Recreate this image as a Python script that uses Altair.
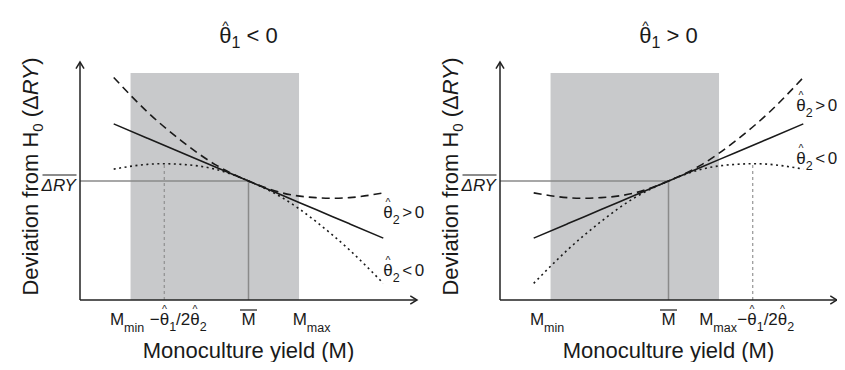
import altair as alt
import pandas as pd

# ---------------- values ----------------
# monoculture yield positions (arbitrary 0-100 units along each x axis)
M_GRID = [10, 20, 30, 40, 50, 60, 70, 80, 90]

# panel 1 (theta1 < 0)
LEFT_DASHED = [93.5, 79, 67, 57, 50, 45, 43, 43, 45]     # theta2 > 0
LEFT_SOLID = [74, 68, 62, 56, 50, 44, 38, 32, 26]        # linear
LEFT_DOTTED = [55, 57, 57, 55, 50, 43, 33, 21, 7]        # theta2 < 0
LEFT_VERTEX = [25, 57.4]                                 # -theta1/2theta2

# panel 2 (theta1 > 0)
RIGHT_DASHED = [45, 43, 43, 45, 50, 57, 67, 79, 93.5]
RIGHT_SOLID = [26, 32, 38, 44, 50, 56, 62, 68, 74]
RIGHT_DOTTED = [7, 21, 33, 43, 50, 55, 57, 57, 55]
RIGHT_VERTEX = [75, 57.4]

M_MIN, M_MAX, M_BAR = 15, 65, 50
DRY_BAR = 50
SHADE_TOP = 95.4

# curve-label anchor heights (y units) for "theta2 > 0" and "theta2 < 0"
LEFT_LABEL_Y = [34.5, 10]
RIGHT_LABEL_Y = [79.5, 57]
LABEL_X = 90

# ---------------- layout / style ----------------
PANEL_GAP = 24.63           # x units between the end of panel 1 and start of panel 2
RIGHT_OFF = 100 + PANEL_GAP
FONT = "Liberation Sans"
INK = "#1a1a1a"
AXC = "#222222"
REFC = "#8a8a8a"
SHADE = "#c8c9cb"

ONE = pd.DataFrame({"k": [0]})
SX = alt.Scale(domain=[0, RIGHT_OFF + 100], nice=False, zero=False)
SY = alt.Scale(domain=[0, 100], nice=False, zero=False)

# Arial / Liberation Sans advance widths (per 1000 em)
W = {' ': 278, '<': 584, '>': 584, '0': 556, '1': 556, '2': 556, 'M': 833,
     'm': 833, 'i': 222, 'n': 556, 'a': 556, 'x': 500, 'θ': 556, '−': 584,
     '/': 278, 'Δ': 668, 'R': 722, 'Y': 667, '(': 333, ')': 333, 'D': 722,
     'e': 556, 'v': 500, 't': 278, 'o': 556, 'f': 278, 'r': 333, 'H': 722,
     'c': 500, 'u': 556, 'l': 222, 'y': 500, 'd': 556}


def tw(s, size, space=278):
    return sum((space if c == ' ' else W.get(c, 556)) for c in s) * size / 1000.0


def XD(v):
    return alt.XDatum(v, scale=SX, axis=None)


def YD(v):
    return alt.YDatum(v, scale=SY, axis=None)


def text_runs(runs, x, y, dx=0.0, dy=0.0, align="center", angle=0, hat_gap=3.0,
              space=278):
    """runs: (text, size, baseline shift, italic, hat)"""
    total = sum(tw(r[0], r[1], space) for r in runs)
    if align == "center":
        cur = dx - total / 2.0
    elif align == "right":
        cur = dx - total
    else:
        cur = dx
    layers = []
    for text, size, shift, italic, hat in runs:
        w = tw(text, size, space)
        body = text.lstrip(" ")           # SVG drops leading blanks
        lead = tw(text[:len(text) - len(body)], size, space)
        props = dict(text=body, fontSize=size, font=FONT, align="left",
                     baseline="alphabetic", dx=cur + lead, dy=dy + shift, color=INK,
                     fontStyle="italic" if italic else "normal")
        if angle:
            props["angle"] = angle
        layers.append(alt.Chart(ONE).mark_text(**props).encode(x=XD(x), y=YD(y)))
        if hat:
            hs = 0.62 * size
            hprops = dict(text="^", fontSize=hs, font=FONT, align="center",
                          baseline="alphabetic", dx=cur + w / 2.0,
                          dy=dy + shift - (0.73 * size + hat_gap) + 0.33 * hs,
                          color=INK)
            if angle:
                hprops["angle"] = angle
            layers.append(alt.Chart(ONE).mark_text(**hprops).encode(x=XD(x), y=YD(y)))
        cur += w
    return layers


def hline(x1, x2, y, color, width, dash=None, ox1=0.0, ox2=0.0, oy=0.0):
    props = dict(color=color, strokeWidth=width, xOffset=ox1, x2Offset=ox2,
                 yOffset=oy, y2Offset=oy)
    if dash:
        props["strokeDash"] = dash
    return alt.Chart(ONE).mark_rule(**props).encode(
        x=XD(x1), x2=alt.X2Datum(x2), y=YD(y), y2=alt.Y2Datum(y))


def vline(x, y1, y2, color, width, dash=None):
    props = dict(color=color, strokeWidth=width)
    if dash:
        props["strokeDash"] = dash
    return alt.Chart(ONE).mark_rule(**props).encode(
        x=XD(x), x2=alt.X2Datum(x), y=YD(y1), y2=alt.Y2Datum(y2))


def panel(off, dashed, solid, dotted, vertex, sign, label_y, tick_dx, label_dx):
    layers = []
    # shaded observed range
    layers.append(alt.Chart(ONE).mark_rect(color=SHADE).encode(
        x=XD(off + M_MIN), x2=alt.X2Datum(off + M_MAX), y=YD(0),
        y2=alt.Y2Datum(SHADE_TOP)))
    # reference lines at the means
    layers.append(hline(off, off + M_BAR, DRY_BAR, REFC, 1.5))
    layers.append(vline(off + M_BAR, 0, DRY_BAR, REFC, 1.5))
    layers.append(vline(off + vertex[0], 0, vertex[1], REFC, 1.1, dash=[3, 3]))
    # curves
    for arr, dash in ((dashed, [8, 5]), (solid, None), (dotted, [2, 3.5])):
        df = pd.DataFrame({"M": [m + off for m in M_GRID], "dev": arr})
        props = dict(color=INK, strokeWidth=1.6, interpolate="natural")
        if dash:
            props["strokeDash"] = dash
        layers.append(alt.Chart(df).mark_line(**props).encode(
            x=alt.X("M:Q", scale=SX, axis=None),
            y=alt.Y("dev:Q", scale=SY, axis=None)))
    # axes with arrow heads
    layers.append(hline(off, off + 100, 0, AXC, 1.5))
    layers.append(vline(off, 0, 100, AXC, 1.5))
    layers.append(alt.Chart(ONE).mark_point(
        shape="M-0.6,1L0,0L0.6,1", filled=False, stroke=AXC, strokeWidth=1.5,
        size=180, opacity=1).encode(x=XD(off), y=YD(100)))
    layers.append(alt.Chart(ONE).mark_point(
        shape="M-1,-0.6L0,0L-1,0.6", filled=False, stroke=AXC, strokeWidth=1.5,
        size=180, opacity=1).encode(x=XD(off + 100), y=YD(0)))

    # panel title  theta1 < 0 / > 0
    layers += text_runs([("θ", 22, 0, False, True), ("1", 16, 5, False, False),
                         (" %s 0" % sign, 22, 0, False, False)],
                        off + 50, 100, dy=-19, hat_gap=1.5)
    # axis titles
    layers += text_runs([("Monoculture yield (M)", 22, 0, False, False)],
                        off + 50, 0, dy=58)
    layers += text_runs([("Deviation from H", 22, 0, False, False),
                         ("0", 15, 5, False, False),
                         (" (Δ", 22, 0, False, False),
                         ("RY", 22, 0, True, False),
                         (")", 22, 0, False, False)],
                        off, 51.9, dy=-42.3, angle=270)
    # mean deviation label with overline
    layers += text_runs([("ΔRY", 17, 0, True, False)], off, DRY_BAR, dx=-3.5, dy=10,
                        align="right")
    layers.append(hline(off, off, DRY_BAR, INK, 1.2, ox1=-37.5, ox2=-3.5, oy=-6))

    # x tick labels
    layers += text_runs([("M", 17, 0, False, False), ("min", 12.5, 7, False, False)],
                        off + M_MIN, 0, dx=tick_dx[0], dy=25)
    layers += text_runs([("M", 17, 0, False, False)], off + M_BAR, 0,
                        dx=tick_dx[1], dy=25)
    layers.append(hline(off + M_BAR, off + M_BAR, 0, INK, 1.2,
                        ox1=-8.5 + tick_dx[1], ox2=8.5 + tick_dx[1], oy=10))
    layers += text_runs([("M", 17, 0, False, False), ("max", 12.5, 7, False, False)],
                        off + M_MAX, 0, dx=tick_dx[2], dy=25)
    layers += text_runs([("−", 17, 0, False, False), ("θ", 17, 0, False, True),
                         ("1", 12.5, 6, False, False), ("/2", 17, 0, False, False),
                         ("θ", 17, 0, False, True), ("2", 12.5, 6, False, False)],
                        off + vertex[0], 0, dx=tick_dx[3], dy=25)

    # curve labels (tight spacing as in the original)
    for sgn, ly in ((">", label_y[0]), ("<", label_y[1])):
        layers += text_runs([("θ", 17, 0, False, True), ("2", 12.5, 6, False, False),
                             (" " + sgn, 17, 0, False, False), (" 0", 17, 0, False, False)],
                            off + LABEL_X, ly, dx=label_dx, align="left", space=150)
    return layers


layers = panel(0, LEFT_DASHED, LEFT_SOLID, LEFT_DOTTED, LEFT_VERTEX, "<",
               LEFT_LABEL_Y, [-3.5, 0, 12.5, 14], 0)
layers += panel(RIGHT_OFF, RIGHT_DASHED, RIGHT_SOLID, RIGHT_DOTTED, RIGHT_VERTEX, ">",
                RIGHT_LABEL_Y, [-3.5, 0, -1, 13], -7)

chart = alt.layer(*layers).properties(
    width=757, height=238,
    autosize=alt.AutoSizeParams(type="none"),
    padding={"left": 72, "top": 54, "right": 0, "bottom": 62},
    background="white",
).configure_view(stroke=None)

chart.save("out.html", embed_options={"renderer": "svg", "actions": False})
